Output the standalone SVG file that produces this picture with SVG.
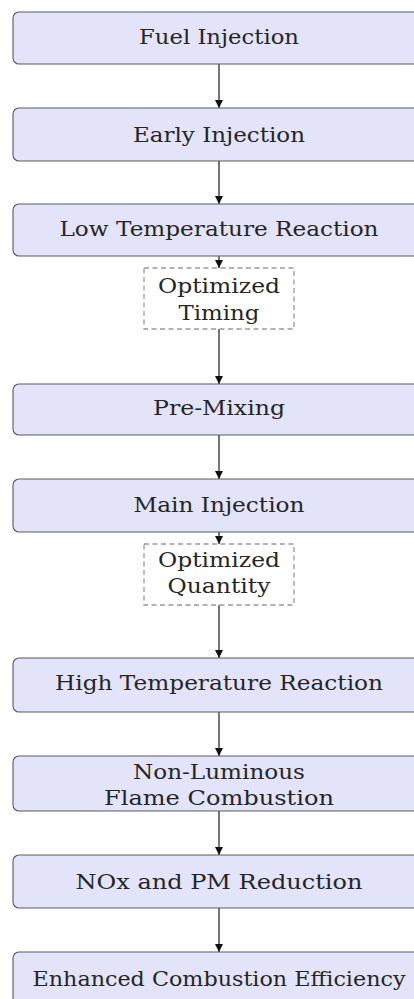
<svg xmlns="http://www.w3.org/2000/svg" width="414" height="999" viewBox="0 0 414 999">
<style>
.box{fill:#e3e3fa;stroke:#5a5a5a;stroke-width:1.1}
.dash{fill:#ffffff;stroke:#9a9a9a;stroke-width:1.3;stroke-dasharray:5 3.5}
.t{font-family:'DejaVu Serif','Liberation Serif',serif;font-size:20px;fill:#262626;text-anchor:middle}
.c{stroke:#555;stroke-width:1.6;fill:none;marker-end:url(#ah)}
</style>
<defs>
<marker id="ah" markerUnits="userSpaceOnUse" markerWidth="10" markerHeight="10" refX="8" refY="4" orient="auto">
<path d="M0,0 L8,4 L0,8 Z" fill="#111"/>
</marker>
</defs>
<rect width="414" height="999" fill="#ffffff"/>
<g id="connectors">
<line class="c" x1="219" y1="64" x2="219" y2="108"/>
<line class="c" x1="219" y1="161" x2="219" y2="204"/>
<line class="c" x1="219" y1="256" x2="219" y2="268"/>
<line class="c" x1="219" y1="329" x2="219" y2="384"/>
<line class="c" x1="219" y1="435" x2="219" y2="479"/>
<line class="c" x1="219" y1="532" x2="219" y2="544"/>
<line class="c" x1="219" y1="605" x2="219" y2="658"/>
<line class="c" x1="219" y1="712" x2="219" y2="756"/>
<line class="c" x1="219" y1="811" x2="219" y2="855"/>
<line class="c" x1="219" y1="908" x2="219" y2="952"/>
</g>
<g id="n1"><rect class="box" x="13" y="12" width="412" height="52" rx="6"/><text class="t" x="219" y="44" textLength="160" lengthAdjust="spacingAndGlyphs">Fuel Injection</text></g>
<g id="n2"><rect class="box" x="13" y="108" width="412" height="53" rx="6"/><text class="t" x="219" y="141.5" textLength="172" lengthAdjust="spacingAndGlyphs">Early Injection</text></g>
<g id="n3"><rect class="box" x="13" y="204" width="412" height="52" rx="6"/><text class="t" x="219" y="236" textLength="319" lengthAdjust="spacingAndGlyphs">Low Temperature Reaction</text></g>
<g id="d1"><rect class="dash" x="144" y="268" width="150" height="61"/><text class="t" x="219" y="293" textLength="122" lengthAdjust="spacingAndGlyphs">Optimized</text><text class="t" x="219" y="320" textLength="81" lengthAdjust="spacingAndGlyphs">Timing</text></g>
<g id="n4"><rect class="box" x="13" y="384" width="412" height="51" rx="6"/><text class="t" x="219" y="415" textLength="132" lengthAdjust="spacingAndGlyphs">Pre-Mixing</text></g>
<g id="n5"><rect class="box" x="13" y="479" width="412" height="53" rx="6"/><text class="t" x="219" y="512" textLength="171" lengthAdjust="spacingAndGlyphs">Main Injection</text></g>
<g id="d2"><rect class="dash" x="144" y="544" width="150" height="61"/><text class="t" x="219" y="567" textLength="122" lengthAdjust="spacingAndGlyphs">Optimized</text><text class="t" x="219" y="593" textLength="103" lengthAdjust="spacingAndGlyphs">Quantity</text></g>
<g id="n6"><rect class="box" x="13" y="658" width="412" height="54" rx="6"/><text class="t" x="219" y="690" textLength="328" lengthAdjust="spacingAndGlyphs">High Temperature Reaction</text></g>
<g id="n7"><rect class="box" x="13" y="756" width="412" height="55" rx="6"/><text class="t" x="219" y="779" textLength="172" lengthAdjust="spacingAndGlyphs">Non-Luminous</text><text class="t" x="219" y="805" textLength="230" lengthAdjust="spacingAndGlyphs">Flame Combustion</text></g>
<g id="n8"><rect class="box" x="13" y="855" width="412" height="53" rx="6"/><text class="t" x="219" y="889" textLength="287" lengthAdjust="spacingAndGlyphs">NOx and PM Reduction</text></g>
<g id="n9"><rect class="box" x="13" y="952" width="412" height="53" rx="6"/><text class="t" x="219" y="986" textLength="373" lengthAdjust="spacingAndGlyphs">Enhanced Combustion Efficiency</text></g>
</svg>
